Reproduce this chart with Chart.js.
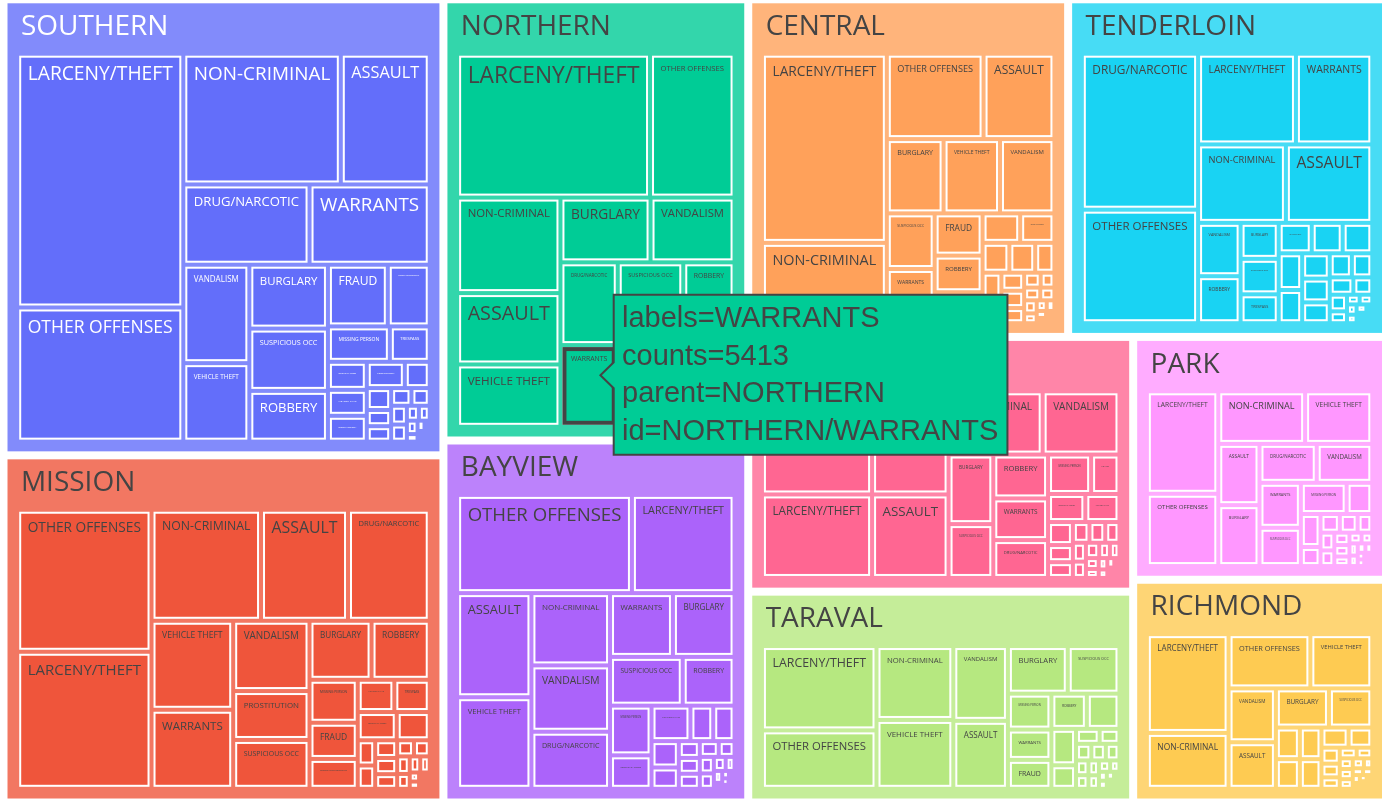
<!DOCTYPE html>
<html>
<head>
<meta charset="utf-8">
<title>Incidents by district and category</title>
<script src="https://cdn.jsdelivr.net/npm/chart.js@4.4.1/dist/chart.umd.min.js"></script>
<style>
  html, body { margin: 0; padding: 0; background: #ffffff; }
  #wrap { width: 1389px; height: 807px; position: relative; }
</style>
</head>
<body>
<div id="wrap"><canvas id="treemapChart"></canvas></div>
<script>
// districts, already in order of total incidents
const districts = ['SOUTHERN', 'MISSION', 'NORTHERN', 'BAYVIEW', 'CENTRAL',
  'TENDERLOIN', 'INGLESIDE', 'TARAVAL', 'PARK', 'RICHMOND'];

const categories = ['LARCENY/THEFT', 'OTHER OFFENSES', 'NON-CRIMINAL', 'ASSAULT',
  'DRUG/NARCOTIC', 'VEHICLE THEFT', 'VANDALISM', 'WARRANTS', 'BURGLARY',
  'SUSPICIOUS OCC', 'MISSING PERSON', 'ROBBERY', 'FRAUD', 'FORGERY/COUNTERFEITING',
  'SECONDARY CODES', 'WEAPON LAWS', 'PROSTITUTION', 'TRESPASS', 'STOLEN PROPERTY',
  'SEX OFFENSES FORCIBLE', 'DISORDERLY CONDUCT', 'DRUNKENNESS', 'RECOVERED VEHICLE',
  'KIDNAPPING', 'DRIVING UNDER THE INFLUENCE', 'RUNAWAY', 'LIQUOR LAWS', 'ARSON',
  'LOITERING', 'EMBEZZLEMENT', 'SUICIDE', 'FAMILY OFFENSES', 'BAD CHECKS', 'BRIBERY',
  'EXTORTION', 'SEX OFFENSES NON FORCIBLE', 'GAMBLING', 'PORNOGRAPHY/OBSCENE MAT'];

// counts per category (same order as categories)
const southern = [47030, 24860, 22970, 12970, 11300, 5780, 7250, 10760, 5600, 5460,
  2445, 4450, 4120, 2885, 1215, 1125, 1115, 1575, 1120, 440,
  595, 730, 420, 400, 360, 200, 300, 180, 160, 330,
  90, 60, 80, 50, 40, 30, 20, 5];
const mission = [21730, 22520, 14350, 11400, 10710, 8580, 6333, 7620, 4323, 4400,
  2446, 4053, 2060, 1700, 1300, 1394, 4406, 1346, 1100, 460,
  480, 520, 420, 380, 320, 300, 260, 220, 180, 200,
  100, 80, 60, 50, 40, 30, 20, 5];
const northern = [32090, 14060, 11410, 8527, 5480, 7446, 6290, 5413, 6745, 5000,
  1900, 3912, 2600, 1250, 1300, 900, 600, 680, 700, 400,
  420, 650, 380, 220, 300, 170, 200, 120, 100, 180,
  60, 40, 40, 30, 30, 15, 10, 0];
const bayview = [12138, 20675, 6842, 9316, 5402, 8194, 6277, 4832, 4731, 4269,
  2485, 3041, 974, 867, 1672, 1662, 400, 700, 910, 380,
  280, 300, 260, 360, 200, 150, 120, 425, 60, 50,
  60, 50, 30, 20, 25, 15, 15, 0];
const central = [28800, 10070, 12230, 7377, 1230, 5110, 4930, 3161, 5140, 3243,
  1810, 2140, 2468, 1350, 975, 600, 480, 940, 700, 420,
  500, 560, 300, 250, 250, 150, 200, 130, 100, 220,
  80, 40, 60, 25, 30, 15, 15, 0];
const tenderloin = [10830, 16100, 8400, 8265, 22120, 1226, 2765, 8450, 1674, 1650,
  1150, 2437, 1050, 600, 950, 1100, 800, 1344, 850, 500,
  700, 650, 150, 350, 150, 100, 400, 100, 250, 120,
  60, 40, 30, 40, 30, 20, 40, 0];
const ingleside = [12025, 14853, 7782, 8350, 2711, 10315, 6352, 2981, 4069, 3150,
  2220, 3140, 1462, 748, 1368, 1252, 192, 556, 449, 513,
  321, 278, 428, 385, 267, 214, 150, 182, 64, 128,
  96, 86, 53, 32, 43, 21, 16, 0];
const taraval = [13670, 9470, 8033, 5250, 1625, 7484, 5778, 1865, 4032, 3484,
  2209, 1765, 1779, 1270, 820, 420, 60, 500, 360, 320,
  200, 240, 340, 260, 220, 180, 100, 150, 30, 90,
  80, 50, 30, 15, 20, 10, 10, 0];
const park = [10150, 7160, 6330, 3500, 3090, 4900, 3000, 2580, 3480, 2195,
  1980, 1110, 900, 500, 520, 380, 100, 460, 240, 200,
  260, 300, 180, 140, 160, 340, 120, 90, 40, 60,
  60, 30, 25, 15, 20, 10, 8, 0];
const richmond = [11601, 6378, 6562, 3167, 784, 4829, 3662, 1021, 2985, 2439,
  921, 982, 1089, 420, 685, 260, 60, 360, 300, 190,
  200, 240, 180, 120, 160, 100, 80, 90, 40, 60,
  50, 30, 25, 10, 15, 8, 8, 0];

const districtCounts = [southern, mission, northern, bayview, central,
  tenderloin, ingleside, taraval, park, richmond];

// the cell under the mouse in the reference
const hovered = { parent: 'NORTHERN', label: 'WARRANTS' };

// plotly default colorway
const palette = ['#636efa', '#EF553B', '#00cc96', '#ab63fa', '#FFA15A',
  '#19d3f3', '#FF6692', '#B6E880', '#FF97FF', '#FECB52'];

const FONT = '"Open Sans", Verdana, Arial, sans-serif';
const HOVER_FONT = '"Liberation Sans", Arial, sans-serif';
const ROOT = { x0: 3.5, y0: -0.7, x1: 1386, y1: 802.5 };
const GAP = 3;
const PAD = { l: 10.7, r: 10.7, t: 51.4, b: 10.7 };

// d3-hierarchy squarify, ratio 1
function squarify(values, box) {
  const out = [];
  let x0 = box.x0, y0 = box.y0, x1 = box.x1, y1 = box.y1;
  let value = values.reduce((s, v) => s + v, 0);
  let i0 = 0, i1 = 0;
  const n = values.length;
  while (i0 < n) {
    const dx = x1 - x0, dy = y1 - y0;
    let sumValue, nodeValue;
    do sumValue = values[i1++]; while (!sumValue && i1 < n);
    let minValue = sumValue, maxValue = sumValue;
    const alpha = Math.max(dy / dx, dx / dy) / value;
    let beta = sumValue * sumValue * alpha;
    let minRatio = Math.max(maxValue / beta, beta / minValue);
    for (; i1 < n; ++i1) {
      sumValue += nodeValue = values[i1];
      if (nodeValue < minValue) minValue = nodeValue;
      if (nodeValue > maxValue) maxValue = nodeValue;
      beta = sumValue * sumValue * alpha;
      const newRatio = Math.max(maxValue / beta, beta / minValue);
      if (newRatio > minRatio) { sumValue -= nodeValue; break; }
      minRatio = newRatio;
    }
    if (dx < dy) {
      const ny = dy ? y0 + dy * sumValue / value : y1;
      const k = sumValue ? dx / sumValue : 0;
      let x = x0;
      for (let i = i0; i < i1; i++) out[i] = { x0: x, y0: y0, x1: (x += values[i] * k), y1: ny };
      y0 = ny;
    } else {
      const nx = dx ? x0 + dx * sumValue / value : x1;
      const k = sumValue ? dy / sumValue : 0;
      let y = y0;
      for (let i = i0; i < i1; i++) out[i] = { x0: x0, y0: y, x1: nx, y1: (y += values[i] * k) };
      x0 = nx;
    }
    value -= sumValue;
    i0 = i1;
  }
  return out;
}

function inset(r, d) {
  return { x0: r.x0 + d, y0: r.y0 + d, x1: r.x1 - d, y1: r.y1 - d };
}

function fade(hex, t) {
  const n = parseInt(hex.slice(1), 16);
  const c = [(n >> 16) & 255, (n >> 8) & 255, n & 255].map(v => Math.round(v + (255 - v) * t));
  return 'rgb(' + c.join(',') + ')';
}

function buildTree() {
  const groups = districts.map((name, i) => {
    const leaves = categories
      .map((c, j) => ({ label: c, value: districtCounts[i][j] }))
      .filter(d => d.value > 0)
      .sort((a, b) => b.value - a.value);
    return {
      name: name,
      color: palette[i],
      text: i === 0 ? '#ffffff' : '#444444',
      leaves: leaves,
      value: leaves.reduce((s, d) => s + d.value, 0)
    };
  }).sort((a, b) => b.value - a.value);
  const tiles = squarify(groups.map(g => g.value), ROOT);
  groups.forEach((g, i) => {
    g.rect = inset(tiles[i], GAP);
    const inner = { x0: g.rect.x0 + PAD.l, y0: g.rect.y0 + PAD.t,
                    x1: g.rect.x1 - PAD.r, y1: g.rect.y1 - PAD.b };
    const lt = squarify(g.leaves.map(d => d.value), inner);
    g.leaves.forEach((d, j) => { d.rect = inset(lt[j], GAP); });
  });
  return groups;
}

const tree = buildTree();

const treemapPlugin = {
  id: 'treemapCells',
  afterDatasetsDraw(chart) {
    const ctx = chart.ctx;
    const X = v => chart.scales.x.getPixelForValue(v);
    const Y = v => chart.scales.y.getPixelForValue(v);
    const pix = r => ({ x: X(r.x0), y: Y(r.y0), w: X(r.x1) - X(r.x0), h: Y(r.y1) - Y(r.y0) });
    let hoverCell = null;

    ctx.save();
    tree.forEach(g => {
      const p = pix(g.rect);
      ctx.fillStyle = fade(g.color, 0.2);
      ctx.fillRect(p.x, p.y, p.w, p.h);
      ctx.strokeStyle = '#ffffff';
      ctx.lineWidth = 2;
      ctx.strokeRect(p.x, p.y, p.w, p.h);

      ctx.fillStyle = g.text;
      ctx.font = '28px ' + FONT;
      ctx.textBaseline = 'alphabetic';
      ctx.textAlign = 'left';
      ctx.fillText(g.name, p.x + 14.4, p.y + 32.7);

      g.leaves.forEach(d => {
        const q = pix(d.rect);
        if (q.w <= 0 || q.h <= 0) return;
        ctx.fillStyle = g.color;
        ctx.fillRect(q.x, q.y, q.w, q.h);
        ctx.strokeStyle = '#ffffff';
        ctx.lineWidth = 2;
        ctx.strokeRect(q.x, q.y, q.w, q.h);

        ctx.font = '100px ' + FONT;
        const w1 = ctx.measureText(d.label).width / 100;
        const size = Math.min(28, (q.w - 15) / w1, (q.h - 11.4) / 0.834);
        if (size >= 1.5) {
          ctx.font = size.toFixed(2) + 'px ' + FONT;
          ctx.fillStyle = g.text;
          ctx.fillText(d.label, q.x + 7.5, q.y + 7.4 + 0.834 * size);
        }
        if (g.name === hovered.parent && d.label === hovered.label) {
          hoverCell = { g: g, d: d, q: q };
        }
      });
    });

    if (hoverCell) {
      const { g, d, q } = hoverCell;
      ctx.strokeStyle = '#444444';
      ctx.lineWidth = 4;
      ctx.strokeRect(q.x + 1, q.y + 1, q.w - 2, q.h - 2);

      const lines = ['labels=' + d.label, 'counts=' + d.value,
        'parent=' + g.name, 'id=' + g.name + '/' + d.label];
      ctx.font = '29px ' + HOVER_FONT;
      const textW = Math.max(...lines.map(s => ctx.measureText(s).width));
      const tipX = q.x + q.w / 2 + 11.3;
      const tipY = q.y + q.h / 2 - 10.7;
      const left = tipX + 13.3;
      const top = tipY - 80.6;
      const right = left + textW + 17.5;
      const bottom = top + 160;

      ctx.beginPath();
      ctx.moveTo(left, top);
      ctx.lineTo(right, top);
      ctx.lineTo(right, bottom);
      ctx.lineTo(left, bottom);
      ctx.lineTo(left, tipY + 13);
      ctx.lineTo(tipX, tipY);
      ctx.lineTo(left, tipY - 13);
      ctx.closePath();
      ctx.fillStyle = g.color;
      ctx.fill();
      ctx.strokeStyle = '#444444';
      ctx.lineWidth = 2;
      ctx.stroke();

      ctx.fillStyle = '#444444';
      lines.forEach((s, i) => ctx.fillText(s, left + 8.3, top + 32.3 + i * 37.7));
    }
    ctx.restore();
  }
};

const chart = new Chart(document.getElementById('treemapChart').getContext('2d'), {
  type: 'scatter',
  data: { datasets: [] },
  options: {
    responsive: true,
    maintainAspectRatio: false,
    animation: false,
    events: [],
    layout: { padding: 0 },
    plugins: {
      legend: { display: false },
      tooltip: { enabled: false }
    },
    scales: {
      x: { type: 'linear', min: 0, max: 1389, display: false },
      y: { type: 'linear', min: 0, max: 807, reverse: true, display: false }
    }
  },
  plugins: [treemapPlugin]
});
</script>
</body>
</html>
